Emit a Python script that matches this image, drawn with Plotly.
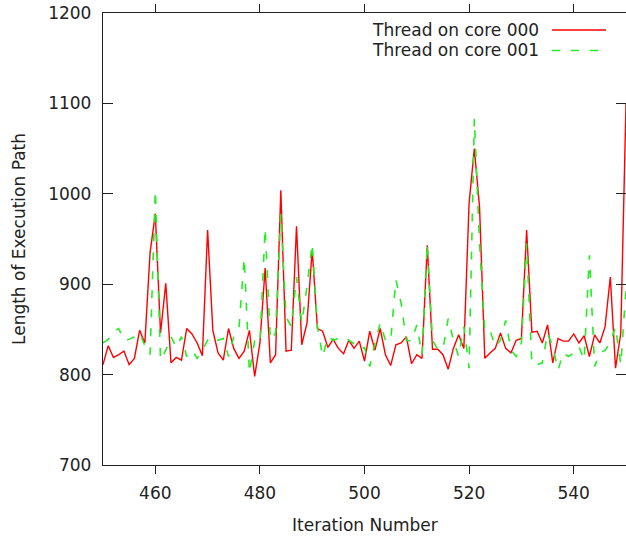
import plotly.graph_objects as go

iterations = list(range(450, 551))

core000 = [811, 832, 819, 822, 826, 811, 818, 849, 835, 935,
           978, 846, 901, 813, 819, 816, 851, 845, 835, 821,
           960, 849, 824, 816, 851, 829, 818, 826, 849, 798,
           835, 918, 813, 822, 1004, 826, 827, 964, 833, 857,
           938, 851, 848, 830, 839, 829, 823, 838, 829, 837,
           815, 848, 827, 851, 822, 810, 833, 835, 842, 812,
           822, 818, 943, 828, 828, 822, 806, 829, 844, 829,
           990, 1050, 985, 818, 824, 829, 846, 829, 824, 838,
           840, 960, 847, 848, 835, 855, 813, 840, 837, 837,
           845, 835, 843, 820, 844, 835, 853, 908, 807, 846,
           1100]

core001 = [835, 839, 848, 851, 838, 839, 842, 846, 832, 822,
           1004, 816, 827, 842, 830, 842, 820, 827, 818, 827,
           838, 842, 838, 840, 820, 842, 852, 929, 802, 838,
           835, 962, 838, 846, 978, 864, 853, 908, 857, 897,
           945, 853, 820, 842, 838, 840, 842, 838, 834, 828,
           830, 809, 835, 857, 838, 837, 905, 879, 838, 837,
           855, 822, 945, 838, 828, 828, 862, 838, 820, 853,
           807, 1083, 945, 848, 849, 831, 838, 860, 827, 820,
           835, 945, 811, 811, 813, 846, 831, 805, 824, 820,
           824, 831, 816, 932, 809, 824, 827, 835, 853, 811,
           895]

series_names = ["Thread on core 000", "Thread on core 001"]
x_ticks = [460, 480, 500, 520, 540]
y_ticks = [700, 800, 900, 1000, 1100, 1200]

FONT = "DejaVu Sans"
FS = 17
TXT = "#222222"
RED = "#ff0000"
GREEN = "#22ee22"

fig = go.Figure()
fig.add_trace(go.Scatter(x=iterations, y=core000, mode="lines", name=series_names[0],
                         line=dict(color=RED, width=1.4), showlegend=False))
fig.add_trace(go.Scatter(x=iterations, y=core001, mode="lines", name=series_names[1],
                         line=dict(color=GREEN, width=1.6, dash="8px,11px"), showlegend=False))

W, H = 626, 538
PL, PT, PR, PB = 103, 13, 626, 465
ml, mt, mr, mb = PL, PT, W - PR, H - PB
pw, ph = PR - PL, PB - PT


def px(page_x):
    return (page_x - PL) / pw


def py(page_y):
    return 1 - (page_y - PT) / ph


fig.update_layout(
    width=W, height=H,
    margin=dict(l=ml, r=mr, t=mt, b=mb, pad=0, autoexpand=False),
    paper_bgcolor="white", plot_bgcolor="white",
    font=dict(family=FONT, size=FS, color=TXT),
    showlegend=False,
)
fig.update_xaxes(range=[450, 550], tickvals=x_ticks, ticks="outside", ticklen=8,
                 tickwidth=1.3, tickcolor="#222", showline=True, linecolor="#222",
                 linewidth=1.3, mirror="ticks", showgrid=False, zeroline=False,
                 ticklabelstandoff=4, automargin=False, ticklabeloverflow="allow",
                 tickfont=dict(family=FONT, size=FS, color=TXT))
fig.update_yaxes(range=[700, 1200], tickvals=y_ticks, ticks="inside", ticklen=10,
                 tickwidth=1.3, tickcolor="#222", showline=True, linecolor="#222",
                 linewidth=1.3, mirror="ticks", showgrid=False, zeroline=False,
                 ticklabelstandoff=7, automargin=False, ticklabeloverflow="allow",
                 tickfont=dict(family=FONT, size=FS, color=TXT))

# axis titles
fig.add_annotation(text="Iteration Number", xref="paper", yref="paper", x=px(364.5), y=py(525),
                   showarrow=False, xanchor="center", yanchor="middle",
                   font=dict(family=FONT, size=FS, color=TXT))
fig.add_annotation(text="Length of Execution Path", xref="paper", yref="paper", x=px(19), y=py(239),
                   showarrow=False, textangle=-90, xanchor="center", yanchor="middle",
                   font=dict(family=FONT, size=FS, color=TXT))

# legend (gnuplot style: text then sample)
legend_rows = [(30, RED, None, 1.4), (50.5, GREEN, "8px,11px", 1.6)]
for name, (ypix, col, dash, w) in zip(series_names, legend_rows):
    yp = py(ypix)
    fig.add_annotation(text=name, xref="paper", yref="paper", x=px(541), y=yp,
                       showarrow=False, xanchor="right", yanchor="middle",
                       font=dict(family=FONT, size=FS, color=TXT))
    line = dict(color=col, width=w)
    if dash:
        line["dash"] = dash
    fig.add_shape(type="line", xref="paper", yref="paper",
                  x0=px(552), x1=px(606), y0=yp, y1=yp, line=line)

fig.write_html(
    "out.html",
    config={"displayModeBar": False},
    post_script="document.body.style.margin='0';document.body.style.overflow='hidden';",
)
